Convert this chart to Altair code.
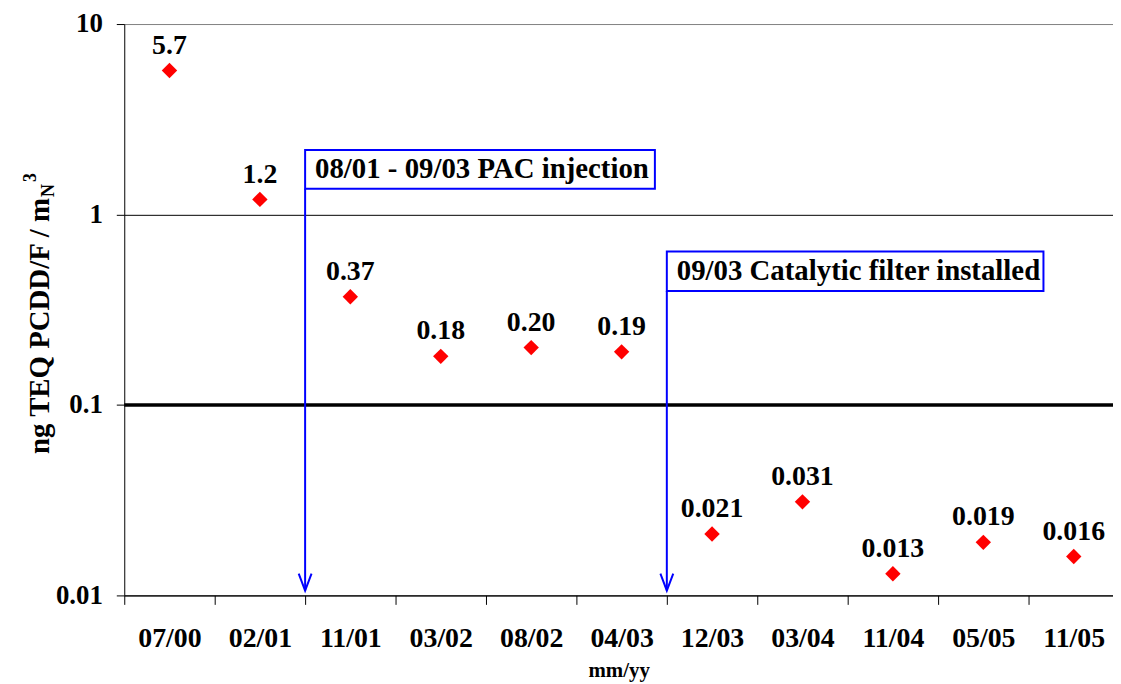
import altair as alt
import pandas as pd

categories = ["07/00", "02/01", "11/01", "03/02", "08/02", "04/03",
              "12/03", "03/04", "11/04", "05/05", "11/05"]
values = [5.7, 1.2, 0.37, 0.18, 0.20, 0.19, 0.021, 0.031, 0.013, 0.019, 0.016]
value_labels = ["5.7", "1.2", "0.37", "0.18", "0.20", "0.19",
                "0.021", "0.031", "0.013", "0.019", "0.016"]
y_ticks = [0.01, 0.1, 1, 10]
limit_value = [0.1]

ann_text = ["08/01 - 09/03 PAC injection", "09/03 Catalytic filter installed"]
ann_x = [2, 6]            # category boundaries (before 11/01 and before 12/03)
ann_x_right = [5.868, 10.165]
ann_top = [2.18, 0.64]
ann_bottom = [1.366, 0.397]
ann_tip = [0.0106, 0.0106]

FONT = "Liberation Serif"
BLUE = "#0000FF"

n = len(categories)
df = pd.DataFrame({
    "cat": categories,
    "xpos": [i + 0.5 for i in range(n)],
    "value": values,
    "label": value_labels,
})
ann = pd.DataFrame({
    "text": ann_text, "x": ann_x, "x2": ann_x_right,
    "top": ann_top, "bottom": ann_bottom, "tip": ann_tip,
})
ann["mid"] = (ann["top"] * ann["bottom"]) ** 0.5

W, H = 995, 575
band = 91.0
xmax = W / band
LEFT, TOP = 117, 14
OX, OY = 8 + LEFT, 8 + TOP

label_expr = "[" + ",".join("'%s'" % c for c in categories) + "][datum.value] || ''"

xscale = alt.Scale(domain=[0, xmax], nice=False, zero=False)
yscale = alt.Scale(type="log", domain=[0.01, 10], nice=False)

xaxis = alt.Axis(values=list(range(n)), labelExpr=label_expr, labelOffset=band / 2,
                 grid=False, title="mm/yy", titleFont=FONT, titleFontSize=21,
                 titleFontWeight="bold", titleColor="black", titlePadding=8,
                 labelFont=FONT, labelFontSize=28, labelFontWeight="bold",
                 labelColor="black", labelPadding=20, tickSize=9, tickColor="black",
                 domainColor="black", labelOverlap=False, labelFlush=False,
                 labelBound=False)
yaxis = alt.Axis(values=y_ticks, format="~g", title=None, grid=True,
                 gridColor=alt.condition("datum.value == 10", alt.value("#808080"),
                                         alt.value("black")),
                 gridWidth=1, labelFont=FONT, labelFontSize=27,
                 labelFontWeight="bold", labelColor="black", labelPadding=14,
                 tickSize=8, tickColor="black", domainColor="black",
                 labelOverlap=False)


def xe(field):
    return alt.X(field, scale=xscale, axis=xaxis)


def ye(field):
    return alt.Y(field, scale=yscale, axis=yaxis)


base = alt.Chart(df)
points = base.mark_point(shape="diamond", filled=True, color="#FF0000",
                         size=240, opacity=1).encode(x=xe("xpos:Q"), y=ye("value:Q"))
labels = base.mark_text(font=FONT, fontSize=28, fontWeight="bold", color="black",
                        baseline="alphabetic", dy=-17).encode(
    x=xe("xpos:Q"), y=ye("value:Q"), text="label:N")

limit = alt.Chart(pd.DataFrame({"v": limit_value})).mark_rule(
    color="black", strokeWidth=3.5).encode(y=ye("v:Q"))

a = alt.Chart(ann)
lines = a.mark_rule(color=BLUE, strokeWidth=2).encode(
    x=xe("x:Q"), y=ye("bottom:Q"), y2="tip:Q")
heads = a.mark_point(shape="M-0.38,-1L0,0L0.38,-1", filled=False, stroke=BLUE,
                     strokeWidth=2, size=1156, opacity=1).encode(
    x=xe("x:Q"), y=ye("tip:Q"))
boxes = a.mark_rect(fill="white", stroke=BLUE, strokeWidth=2).encode(
    x=xe("x:Q"), x2="x2:Q", y=ye("top:Q"), y2="bottom:Q")
box_text = a.mark_text(font=FONT, fontSize=29, fontWeight="bold", color="black",
                       align="left", baseline="middle", dx=10).encode(
    x=xe("x:Q"), y=ye("mid:Q"), text="text:N")

# y-axis title with subscript / superscript
t_main = alt.Chart(pd.DataFrame({"t": ["ng TEQ PCDD/F / m"]})).mark_text(
    font=FONT, fontSize=29, fontWeight="bold", color="black", angle=270,
    align="right", baseline="alphabetic").encode(
    x=alt.value(49 - OX), y=alt.value(197 - OY), text="t:N")
t_sub = alt.Chart(pd.DataFrame({"t": ["N"]})).mark_text(
    font=FONT, fontSize=18, fontWeight="bold", color="black", angle=270,
    align="left", baseline="alphabetic").encode(
    x=alt.value(54 - OX), y=alt.value(196 - OY), text="t:N")
t_sup = alt.Chart(pd.DataFrame({"t": ["3"]})).mark_text(
    font=FONT, fontSize=18, fontWeight="bold", color="black", angle=270,
    align="left", baseline="alphabetic").encode(
    x=alt.value(36 - OX), y=alt.value(181 - OY), text="t:N")

chart = alt.layer(
    points, limit, labels, lines, heads, boxes, box_text, t_main, t_sub, t_sup
).properties(
    width=W, height=H,
    autosize=alt.AutoSizeParams(type="none"),
    padding={"left": LEFT, "top": TOP, "right": 0, "bottom": 86},
    background="white",
).configure_view(strokeWidth=0)

chart.save("out.html", embed_options={"renderer": "svg", "actions": False})
